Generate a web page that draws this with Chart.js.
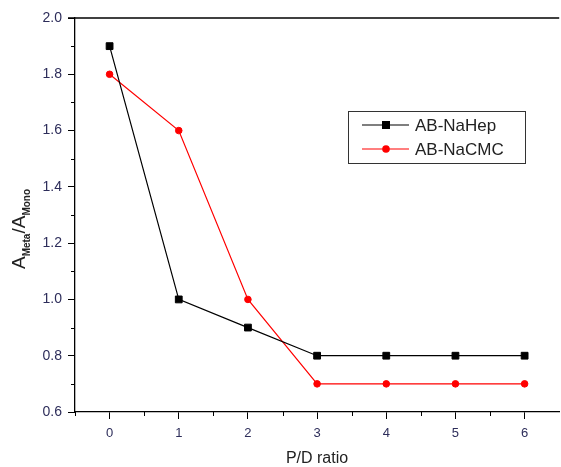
<!DOCTYPE html>
<html>
<head>
<meta charset="utf-8">
<script src="https://cdn.jsdelivr.net/npm/chart.js@4.4.1/dist/chart.umd.min.js"></script>
<style>
  html, body { margin: 0; padding: 0; background: #fff; overflow: hidden; }
  #wrap { width: 561px; height: 467px; overflow: hidden; }
</style>
</head>
<body>
<div id="wrap"><canvas id="myChart" width="565" height="467"></canvas></div>
<script>
// data
var ratios = [0, 1, 2, 3, 4, 5, 6];
var naHep = [1.9, 1.0, 0.9, 0.8, 0.8, 0.8, 0.8];
var naCmc = [1.8, 1.6, 1.0, 0.7, 0.7, 0.7, 0.7];
var xTicks = [0, 1, 2, 3, 4, 5, 6];
var yTicks = [0.6, 0.8, 1.0, 1.2, 1.4, 1.6, 1.8, 2.0];
var xMinor = [-0.5, 0.5, 1.5, 2.5, 3.5, 4.5, 5.5];
var yMinor = [0.7, 0.9, 1.1, 1.3, 1.5, 1.7, 1.9];
var seriesNames = ['AB-NaHep', 'AB-NaCMC'];

var tickColor = '#2d2d5a';
var fontFam = '"Liberation Sans", Arial, sans-serif';

function toPoints(ys) {
    return ratios.map(function (x, i) { return { x: x, y: ys[i] }; });
}

// minor ticks, top border, axis titles, boxed legend
var extras = {
    id: 'extras',
    afterDraw: function (chart) {
        var ctx = chart.ctx;
        var a = chart.chartArea;
        var xs = chart.scales.x, ys = chart.scales.y;
        ctx.save();
        ctx.strokeStyle = '#000';
        ctx.lineWidth = 1;
        ctx.beginPath();
        xMinor.forEach(function (v) {
            var px = Math.round(xs.getPixelForValue(v)) + 0.5;
            ctx.moveTo(px, a.bottom);
            ctx.lineTo(px, a.bottom + 4);
        });
        yMinor.forEach(function (v) {
            var py = Math.round(ys.getPixelForValue(v)) + 0.5;
            ctx.moveTo(a.left, py);
            ctx.lineTo(a.left - 4, py);
        });
        ctx.stroke();

        // top frame line
        ctx.lineWidth = 1.3;
        ctx.beginPath();
        ctx.moveTo(a.left - 7, a.top);
        ctx.lineTo(a.right, a.top);
        ctx.stroke();

        // x title
        ctx.fillStyle = '#222';
        ctx.font = '16px ' + fontFam;
        ctx.textAlign = 'center';
        ctx.textBaseline = 'middle';
        ctx.fillText('P/D ratio', 317, 459);

        // y title with subscripts
        var parts = [
            { t: 'A', f: '19px ' + fontFam, dy: 0 },
            { t: 'Meta', f: 'bold 10px ' + fontFam, dy: 5 },
            { t: '/A', f: '19px ' + fontFam, dy: 0 },
            { t: 'Mono', f: 'bold 10px ' + fontFam, dy: 5 }
        ];
        var total = 0;
        parts.forEach(function (p) { ctx.font = p.f; p.w = ctx.measureText(p.t).width; total += p.w; });
        ctx.translate(25, 229);
        ctx.rotate(-Math.PI / 2);
        ctx.textAlign = 'left';
        ctx.textBaseline = 'alphabetic';
        var cx = -total / 2;
        parts.forEach(function (p) {
            ctx.font = p.f;
            ctx.fillText(p.t, cx, p.dy);
            cx += p.w;
        });
        ctx.setTransform(1, 0, 0, 1, 0, 0);

        // legend box
        ctx.strokeStyle = '#333';
        ctx.lineWidth = 1;
        ctx.strokeRect(348.5, 111.5, 177, 52);
        chart.data.datasets.forEach(function (ds, i) {
            var ly = 125 + i * 24;
            ctx.strokeStyle = ds.borderColor;
            ctx.lineWidth = 1.2;
            ctx.beginPath();
            ctx.moveTo(362, ly);
            ctx.lineTo(409, ly);
            ctx.stroke();
            ctx.fillStyle = ds.pointBackgroundColor;
            if (ds.pointStyle === 'rect') {
                ctx.fillRect(382, ly - 4, 8, 8);
            } else {
                ctx.beginPath();
                ctx.arc(386, ly, 3.8, 0, Math.PI * 2);
                ctx.fill();
            }
            ctx.fillStyle = '#222';
            ctx.font = '17px ' + fontFam;
            ctx.textAlign = 'left';
            ctx.textBaseline = 'middle';
            ctx.fillText(seriesNames[i], 415, ly + 1);
        });
        ctx.restore();
    }
};

var ctx = document.getElementById('myChart').getContext('2d');
var myChart = new Chart(ctx, {
    type: 'line',
    data: {
        datasets: [{
            label: seriesNames[0],
            data: toPoints(naHep),
            borderColor: '#000',
            backgroundColor: '#000',
            pointBackgroundColor: '#000',
            pointBorderColor: '#000',
            pointStyle: 'rect',
            pointRadius: 4.8,
            pointBorderWidth: 1,
            borderWidth: 1.2,
            tension: 0
        }, {
            label: seriesNames[1],
            data: toPoints(naCmc),
            borderColor: '#ff0000',
            backgroundColor: '#ff0000',
            pointBackgroundColor: '#ff0000',
            pointBorderColor: '#ff0000',
            pointStyle: 'circle',
            pointRadius: 3.3,
            pointBorderWidth: 1,
            borderWidth: 1.2,
            tension: 0
        }]
    },
    options: {
        responsive: false,
        animation: false,
        devicePixelRatio: 1,
        layout: { padding: { left: 0, right: 0, top: 18, bottom: 0 } },
        plugins: {
            legend: { display: false },
            tooltip: { enabled: false }
        },
        scales: {
            x: {
                type: 'linear',
                min: -0.5,
                max: 6.5,
                afterBuildTicks: function (s) { s.ticks = xTicks.map(function (v) { return { value: v }; }); },
                afterFit: function (s) { s.height = 55; },
                grid: { display: true, drawOnChartArea: false, drawTicks: true, tickLength: 7, color: '#000', lineWidth: 1 },
                border: { display: true, color: '#000', width: 1.3 },
                ticks: {
                    padding: 7,
                    color: tickColor,
                    font: { family: fontFam, size: 13 },
                    maxRotation: 0
                }
            },
            y: {
                type: 'linear',
                min: 0.6,
                max: 2.0,
                afterBuildTicks: function (s) { s.ticks = yTicks.map(function (v) { return { value: v }; }); },
                afterFit: function (s) { s.width = 75; },
                grid: { display: true, drawOnChartArea: false, drawTicks: true, tickLength: 7, color: '#000', lineWidth: 1 },
                border: { display: true, color: '#000', width: 1.3 },
                ticks: {
                    padding: 6,
                    color: tickColor,
                    font: { family: fontFam, size: 14 },
                    callback: function (v) { return v.toFixed(1); }
                }
            }
        }
    },
    plugins: [extras]
});
</script>
</body>
</html>
